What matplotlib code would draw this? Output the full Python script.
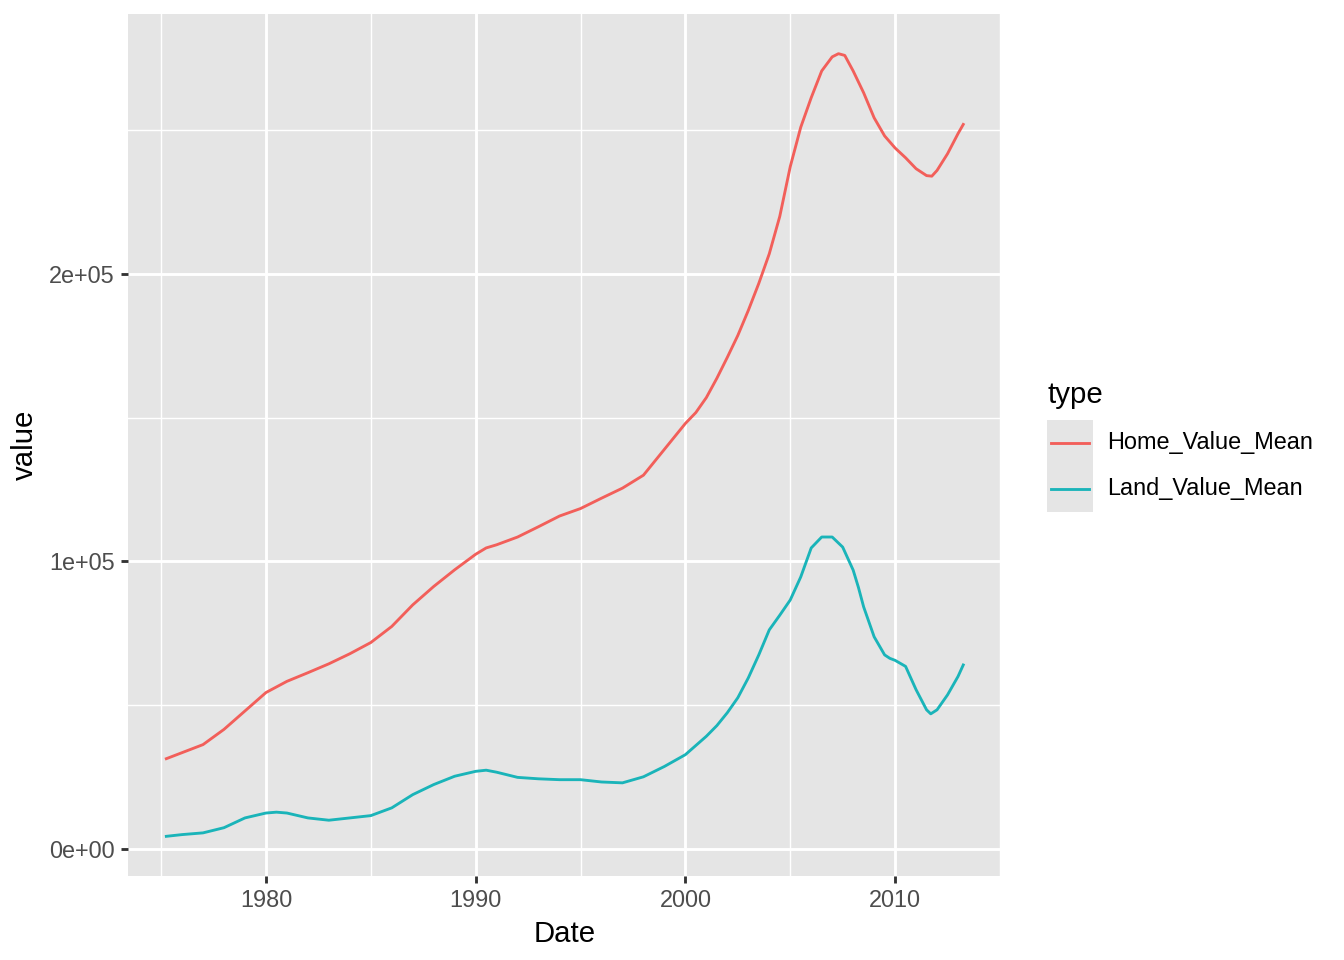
import numpy as np
import matplotlib
matplotlib.use('Agg')
import matplotlib.pyplot as plt
from matplotlib.lines import Line2D
from matplotlib.patches import Rectangle

plt.rcParams['font.family'] = ['Liberation Sans', 'DejaVu Sans']

# values
home_years = [1975.25, 1976, 1977, 1978, 1979, 1980, 1981, 1982, 1983, 1984,
              1985, 1986, 1987, 1988, 1989, 1990, 1990.5, 1991, 1992, 1993,
              1994, 1995, 1996, 1997, 1998, 1999, 2000, 2000.5, 2001, 2001.5,
              2002, 2002.5, 2003, 2003.5, 2004, 2004.5, 2005, 2005.5, 2006, 2006.5,
              2007, 2007.3, 2007.6, 2008, 2008.5, 2009, 2009.5, 2010, 2010.5, 2011,
              2011.5, 2011.75, 2012, 2012.5, 2013, 2013.25]
home_values = [31400, 33500, 36300, 41600, 48000, 54400, 58300, 61300, 64400, 67900,
               71800, 77400, 84900, 91300, 97100, 102500, 104700, 105800, 108500, 112100,
               115800, 118400, 122000, 125500, 130000, 139000, 148000, 151800, 157000, 163700,
               171000, 178600, 187300, 196700, 207000, 220000, 237300, 251000, 261300, 270600,
               275500, 276600, 276000, 270600, 263000, 254300, 248000, 243800, 240400, 236600,
               234200, 234000, 236000, 241800, 248800, 252000]

land_years = [1975.25, 1976, 1977, 1978, 1979, 1980, 1980.5, 1981, 1982, 1983,
              1984, 1985, 1986, 1987, 1988, 1989, 1990, 1990.5, 1991, 1992,
              1993, 1994, 1995, 1996, 1997, 1998, 1999, 2000, 2001, 2001.5,
              2002, 2002.5, 2003, 2003.5, 2004, 2004.5, 2005, 2005.5, 2006, 2006.5,
              2007, 2007.5, 2008, 2008.25, 2008.5, 2009, 2009.5, 2009.75, 2010, 2010.5,
              2011, 2011.5, 2011.7, 2012, 2012.5, 2013, 2013.25]
land_values = [4400, 5000, 5600, 7400, 10800, 12500, 12800, 12500, 10800, 10000,
               10800, 11600, 14300, 18900, 22400, 25300, 27000, 27400, 26700, 24900,
               24400, 24100, 24100, 23300, 23000, 25100, 28700, 32800, 39200, 42900,
               47400, 52600, 59500, 67500, 76200, 81300, 86600, 94600, 104700, 108500,
               108500, 105000, 97000, 91000, 84200, 73800, 67500, 66300, 65600, 63500,
               55400, 48400, 47000, 48400, 53600, 60000, 64000]

series_names = ['Home_Value_Mean', 'Land_Value_Mean']
series_colors = ['#F25F5A', '#1AB4B9']

x_ticks = [1980, 1990, 2000, 2010]
x_minor = [1975, 1985, 1995, 2005, 2015]
y_ticks = [0, 100000, 200000]
y_tick_labels = ['0e+00', '1e+05', '2e+05']
y_minor = [50000, 150000, 250000]

panel_bg = '#E5E5E5'

fig = plt.figure(figsize=(7, 5), dpi=192)
ax = fig.add_axes([0.0952, 0.0875, 0.6496, 0.8979])
ax.set_facecolor(panel_bg)
for s in ax.spines.values():
    s.set_visible(False)

ax.plot(home_years, home_values, color=series_colors[0], lw=1.07, zorder=3)
ax.plot(land_years, land_values, color=series_colors[1], lw=1.07, zorder=3)

ax.set_xlim(1973.42, 2015.05)
ax.set_ylim(-9400, 290400)

ax.set_xticks(x_ticks)
ax.set_xticks(x_minor, minor=True)
ax.set_yticks(y_ticks)
ax.set_yticklabels(y_tick_labels)
ax.set_yticks(y_minor, minor=True)
ax.grid(which='major', color='white', lw=1.07)
ax.grid(which='minor', color='white', lw=0.53)
ax.set_axisbelow(True)
ax.tick_params(which='major', length=2.75, width=1.07, color='#333333',
               labelsize=8.8, labelcolor='#4D4D4D', pad=2.2)
ax.tick_params(which='minor', length=0)

ax.set_xlabel('Date', fontsize=11, color='black', labelpad=3)
ax.set_ylabel('value', fontsize=11, color='black', labelpad=4)

# legend drawn ggplot-style
W, H = 1344, 960
fig.text(1047 / W, 1 - 395 / H, 'type', fontsize=11, va='center', ha='left')
for i, (name, col) in enumerate(zip(series_names, series_colors)):
    top = 420 + 46 * i
    fig.patches.append(Rectangle((1047 / W, 1 - (top + 46) / H), 46 / W, 46 / H,
                                 transform=fig.transFigure, facecolor=panel_bg,
                                 edgecolor='none'))
    yc = 1 - (top + 23) / H
    fig.lines.append(Line2D([1051 / W, 1089 / W], [yc, yc], transform=fig.transFigure,
                            color=col, lw=1.07))
    fig.text(1107 / W, yc, name, fontsize=8.8, va='center', ha='left')

fig.savefig('out.png', dpi=192)
